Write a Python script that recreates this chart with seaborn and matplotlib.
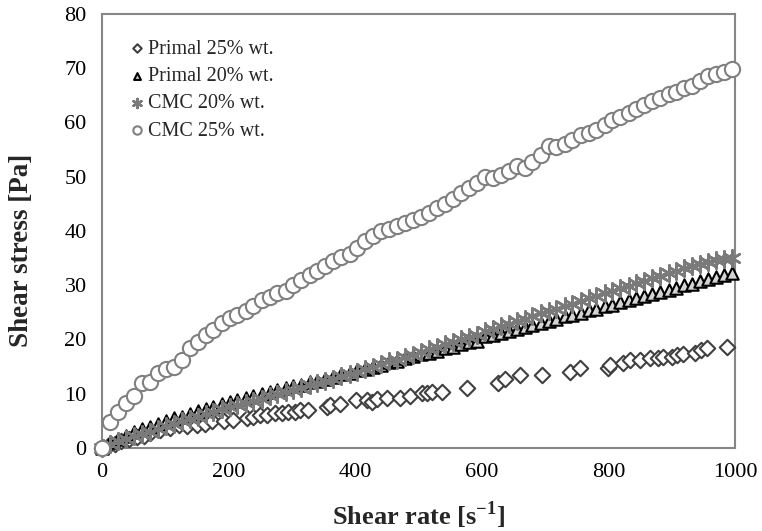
import matplotlib
matplotlib.use("Agg")
import matplotlib.pyplot as plt
import seaborn as sns
import pandas as pd

# ---------------- data ----------------
shear_rate = [
    0, 13, 25, 38, 50, 63, 76, 88, 101, 113,
    126, 139, 151, 164, 176, 189, 202, 214, 227, 239,
    252, 265, 277, 290, 302, 315, 328, 340, 353, 365,
    378, 391, 403, 416, 428, 441, 454, 466, 479, 491,
    504, 517, 529, 542, 554, 567, 580, 592, 605, 617,
    630, 643, 655, 668, 680, 693, 706, 718, 731, 743,
    756, 769, 781, 794, 806, 819, 832, 844, 857, 869,
    882, 895, 907, 920, 932, 945, 958, 970, 983, 995,
]

cmc_25 = [
    0, 4.8, 6.6, 8.3, 9.6, 11.9, 12.2, 13.8, 14.6, 15.0,
    16.3, 18.4, 19.6, 20.8, 21.7, 23.0, 23.9, 24.6, 25.3, 26.1,
    27.2, 27.9, 28.5, 29.0, 30.0, 30.9, 31.8, 32.6, 33.5, 34.4,
    35.2, 35.8, 36.8, 38.1, 39.0, 40.0, 40.4, 40.9, 41.5, 42.0,
    42.6, 43.4, 44.2, 45.0, 45.9, 47.0, 47.9, 48.8, 50.0, 49.7,
    50.3, 51.0, 51.9, 51.6, 52.8, 54.0, 55.6, 55.5, 56.0, 56.8,
    57.7, 58.0, 58.6, 59.5, 60.4, 61.1, 61.8, 62.5, 63.2, 64.0,
    64.6, 65.2, 65.7, 66.3, 66.8, 67.6, 68.5, 68.9, 69.3, 69.8,
]

primal_20 = [
    0, 1.1, 1.7, 2.3, 2.9, 3.5, 3.9, 4.4, 5.0, 5.6,
    5.7, 6.3, 6.9, 7.1, 7.6, 8.1, 8.5, 8.8, 9.2, 9.5,
    9.9, 10.4, 10.6, 11.1, 11.4, 11.7, 12.1, 12.4, 12.8, 13.1,
    13.6, 13.9, 14.3, 14.6, 15.0, 15.3, 15.8, 16.1, 16.6, 16.9,
    17.3, 17.6, 17.9, 18.4, 18.6, 19.1, 19.5, 19.8, 20.6, 20.9,
    21.2, 21.6, 22.0, 22.3, 22.6, 23.1, 23.4, 23.8, 24.3, 24.6,
    24.9, 25.4, 25.7, 26.1, 26.4, 26.9, 27.3, 27.6, 28.1, 28.4,
    28.8, 29.2, 29.5, 30.0, 30.3, 30.7, 31.2, 31.6, 31.8, 32.3,
]

cmc_20 = [
    0, 0.7, 1.2, 1.7, 2.2, 2.6, 3.0, 3.5, 4.0, 4.4,
    4.9, 5.3, 5.8, 6.2, 6.6, 7.1, 7.5, 7.9, 8.3, 8.7,
    9.1, 9.5, 9.9, 10.3, 10.7, 11.1, 11.6, 11.9, 12.4, 12.8,
    13.3, 13.7, 14.1, 14.6, 15.0, 15.5, 16.0, 16.3, 16.8, 17.2,
    17.7, 18.2, 18.6, 19.1, 19.5, 20.1, 20.5, 20.9, 21.5, 22.0,
    22.4, 22.9, 23.4, 23.8, 24.3, 24.8, 25.3, 25.7, 26.2, 26.6,
    27.1, 27.6, 28.0, 28.5, 29.0, 29.5, 29.9, 30.4, 30.8, 31.3,
    31.7, 32.2, 32.6, 33.1, 33.5, 33.9, 34.3, 34.6, 34.9, 35.1,
]

primal_25_rate = [
    0, 10, 20, 30, 42, 55, 66, 76, 92, 107,
    121, 135, 150, 163, 173, 192, 207, 229, 239, 250, 260,
    273, 284, 294, 305, 313, 326, 355, 360, 376, 402,
    418, 426, 434, 450, 471, 487, 505, 513, 521, 537,
    576, 626, 637, 660, 695, 739, 755, 800, 803, 823,
    834, 850, 866, 879, 887, 900, 908, 918, 937, 947,
    955, 987,
]
primal_25 = [
    0, 0.4, 0.8, 1.2, 1.6, 2.0, 2.3, 2.7, 3.3, 3.6,
    4.2, 4.0, 4.3, 4.5, 4.9, 4.9, 5.2, 5.5, 5.8, 6.1, 6.1,
    6.4, 6.4, 6.7, 6.7, 7.0, 7.0, 7.6, 7.9, 8.2, 8.8,
    8.8, 8.5, 9.0, 9.2, 9.3, 9.5, 10.1, 10.2, 10.4, 10.3,
    11.0, 11.9, 12.8, 13.5, 13.5, 14.1, 14.7, 14.7, 15.3, 15.6,
    16.2, 16.2, 16.5, 16.5, 16.8, 16.8, 17.1, 17.3, 17.5, 18.1,
    18.4, 18.7,
]

labels = ["Primal 25% wt.", "Primal 20% wt.", "CMC 20% wt.", "CMC 25% wt."]
x_ticks = [0, 200, 400, 600, 800, 1000]
y_ticks = [0, 10, 20, 30, 40, 50, 60, 70, 80]

# ---------------- style ----------------
sns.set_theme(style="white")
plt.rcParams['font.family'] = ['Liberation Serif', 'DejaVu Serif']
plt.rcParams['mathtext.fontset'] = 'custom'
plt.rcParams['mathtext.rm'] = 'Liberation Serif'
plt.rcParams['mathtext.bf'] = 'Liberation Serif:bold'

fig = plt.figure(figsize=(7.62, 5.31), dpi=100)
ax = fig.add_axes([102 / 762, 83 / 531, 633 / 762, 434 / 531])

grey = '#868686'

df_p25 = pd.DataFrame({"rate": primal_25_rate, "stress": primal_25})
df = pd.DataFrame({"rate": shear_rate, "p20": primal_20, "c20": cmc_20, "c25": cmc_25})

sns.scatterplot(data=df_p25, x="rate", y="stress", ax=ax, marker="D", s=62,
                color="white", edgecolor="#404040", linewidth=1.5,
                label=labels[0], clip_on=False, zorder=3)
sns.scatterplot(data=df, x="rate", y="p20", ax=ax, marker="^", s=80,
                color="#d4d4d4", edgecolor="black", linewidth=1.5,
                label=labels[1], clip_on=False, zorder=4)
sns.scatterplot(data=df, x="rate", y="c20", ax=ax, marker=(6, 2, 0), s=140,
                color="#7a7a7a", linewidth=1.8,
                label=labels[2], clip_on=False, zorder=5)
sns.scatterplot(data=df, x="rate", y="c25", ax=ax, marker="o", s=120,
                color="white", edgecolor="#808080", linewidth=1.5,
                label=labels[3], clip_on=False, zorder=6)

ax.set_xlim(0, 1000)
ax.set_ylim(0, 80)
ax.set_xticks(x_ticks)
ax.set_yticks(y_ticks)
ax.tick_params(axis='both', which='major', direction='out', length=6, width=1.3,
               color=grey, labelsize=16, labelcolor='black', pad=5)
for sp in ax.spines.values():
    sp.set_color(grey)
    sp.set_linewidth(1.5)

ax.set_xlabel(r'Shear rate [s$^{\mathbf{-1}}$]', fontsize=19, fontweight='bold', labelpad=12)
ax.set_ylabel('Shear stress [Pa]', fontsize=19.5, fontweight='bold')
ax.yaxis.set_label_coords(-0.108, 0.455)

leg = ax.legend(loc='upper left', bbox_to_anchor=(0.044, 0.941), frameon=False,
                fontsize=14.5, markerscale=0.55, handlelength=0.7, handletextpad=0.2,
                borderpad=0, borderaxespad=0, labelspacing=0.41)

fig.savefig("out.png", dpi=100)
